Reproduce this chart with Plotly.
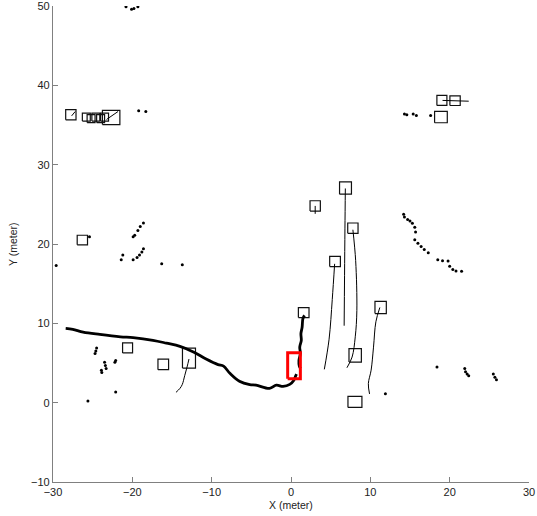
import plotly.graph_objects as go

# ---- data (meters) ----
# thick vehicle trajectory (None = gap)
traj_x = [-28.4, -27.5, -26.2, -24.1, -21.5, -19.9, -17.4, -15.7, -14.0, -12.3, -10.7, -9.2, -8.5, -7.7,
          -6.5, -5.2, -4.4, -2.7, -1.84, -1.0, -0.16, 0.34, 0.6, 0.7, None,
          1.2, 1.05, 1.0, 1.18, 1.1, 1.3, 1.25, 1.4, 1.5, 1.7]
traj_y = [9.37, 9.25, 8.9, 8.6, 8.3, 8.2, 7.86, 7.5, 7.1, 6.4, 5.5, 4.8, 4.6, 3.7,
          2.7, 2.27, 2.2, 1.8, 2.2, 2.05, 2.3, 2.8, 3.4, 3.6, None,
          4.3, 4.6, 5.3, 6.2, 7.0, 7.85, 8.7, 9.5, 10.6, 11.0]

# thin object tracks
tracks = [
    ([-12.86, -13.1, -13.4, -13.7, -14.0, -14.5], [5.5, 4.5, 3.4, 2.3, 1.8, 1.3]),
    ([6.85, 6.8, 6.75, 6.7], [27.0, 22.0, 16.0, 9.7]),
    ([5.5, 5.2, 4.8, 4.2], [17.5, 13.0, 8.0, 4.2]),
    ([7.8, 8.15, 8.3, 8.1, 7.7, 7.05], [21.8, 17.9, 11.6, 8.3, 5.75, 4.4]),
    ([11.2, 10.7, 10.4, 10.1, 9.75, 9.9], [12.0, 10.2, 7.0, 4.1, 2.4, 1.1]),
    ([19.1, 22.4], [38.1, 38.0]),
    ([-27.65, -27.2], [36.15, 36.7]),
    ([-23.25, -21.8], [35.7, 36.7]),
    ([3.05, 3.05], [24.8, 23.8]),
]

# object bounding boxes: centre x, centre y, width, height
box_cx = [-27.75, -25.8, -25.2, -24.6, -24.0, -23.5, -22.67, -26.3, -20.6, -16.1, -12.86,
          1.6, 3.05, 6.87, 7.8, 5.55, 11.3, 8.09, 8.06, 19.02, 20.68, 18.9]
box_cy = [36.3, 36.0, 35.8, 36.0, 35.8, 36.0, 35.95, 20.5, 6.9, 4.83, 5.62,
          11.35, 24.8, 27.05, 22.0, 17.8, 12.0, 5.96, 0.1, 38.1, 38.06, 36.0]
box_w = [1.3, 1.0, 1.0, 1.0, 1.0, 1.0, 2.2, 1.3, 1.26, 1.34, 1.64,
         1.34, 1.3, 1.5, 1.3, 1.35, 1.43, 1.56, 1.76, 1.26, 1.3, 1.6]
box_h = [1.3, 1.0, 1.0, 1.0, 1.0, 1.0, 1.8, 1.2, 1.26, 1.34, 2.52,
         1.26, 1.3, 1.55, 1.3, 1.3, 1.55, 1.68, 1.39, 1.26, 1.2, 1.43]

# highlighted box (red)
red_cx, red_cy, red_w, red_h = 0.38, 4.65, 1.6, 3.3

# laser scan points
pts_x = [-20.8, -20.1, -19.8, -19.3, -19.2, -18.3,
         -18.6, -19.0, -19.3, -19.7, -19.9,
         -18.6, -18.8, -19.1, -19.4, -19.9, -21.2, -21.4,
         -25.4, -29.6, -16.3, -13.7,
         -24.5, -24.6, -24.7, -23.5, -23.4, -23.3, -23.9, -23.85, -22.1, -22.2, -22.1, -25.6,
         18.4, 21.9, 22.0, 22.2, 22.4, 25.5, 25.7, 25.9, 11.9,
         14.3, 14.6, 15.4, 15.8, 17.6,
         14.2, 14.3, 14.7, 15.0, 15.3, 15.6, 15.7, 15.6, 16.0, 16.4, 16.8, 17.3,
         18.5, 19.1, 19.8, 20.0, 20.4, 20.8, 21.5]
pts_y = [49.9, 49.6, 49.7, 49.9, 36.8, 36.7,
         22.65, 22.2, 21.7, 21.1, 20.9,
         19.4, 19.0, 18.6, 18.3, 18.0, 18.6, 18.0,
         20.9, 17.3, 17.5, 17.4,
         6.9, 6.5, 6.2, 5.1, 4.7, 4.3, 4.1, 3.8, 5.3, 5.1, 1.35, 0.2,
         4.5, 4.3, 3.9, 3.6, 3.4, 3.6, 3.2, 2.9, 1.13,
         36.4, 36.3, 36.4, 36.2, 36.2,
         23.75, 23.4, 23.1, 22.9, 22.6, 22.1, 21.5, 20.55, 20.1, 19.7, 19.3, 18.9,
         18.0, 17.9, 17.85, 17.2, 16.8, 16.6, 16.55]

x_ticks = [-30, -20, -10, 0, 10, 20, 30]
y_ticks = [-10, 0, 10, 20, 30, 40, 50]


def rect_path(cx, cy, w, h):
    xs, ys = [], []
    for a, b, ww, hh in zip(cx, cy, w, h):
        x0, x1, y0, y1 = a - ww / 2, a + ww / 2, b - hh / 2, b + hh / 2
        xs += [x0, x1, x1, x0, x0, None]
        ys += [y0, y0, y1, y1, y0, None]
    return xs, ys


FONT = "Liberation Sans, Arial, Helvetica"

fig = go.Figure()

bx, by = rect_path(box_cx, box_cy, box_w, box_h)
fig.add_trace(go.Scatter(x=bx, y=by, mode="lines", line=dict(color="#111111", width=1.2),
                         hoverinfo="skip"))

for tx, ty in tracks:
    fig.add_trace(go.Scatter(x=tx, y=ty, mode="lines", line=dict(color="black", width=1),
                             line_shape="spline", hoverinfo="skip"))

fig.add_trace(go.Scatter(x=pts_x, y=pts_y, mode="markers",
                         marker=dict(color="black", size=3, line=dict(width=0))))

fig.add_trace(go.Scatter(x=traj_x, y=traj_y, mode="lines", line=dict(color="black", width=2.8),
                         line_shape="spline", hoverinfo="skip"))

rx, ry = rect_path([red_cx], [red_cy], [red_w], [red_h])
fig.add_trace(go.Scatter(x=rx, y=ry, mode="lines", line=dict(color="#ff0000", width=3),
                         hoverinfo="skip"))

axis_common = dict(showgrid=False, zeroline=False, showline=True, linecolor="#808080", linewidth=1.3,
                   ticks="inside", ticklen=5, tickcolor="#808080", tickwidth=1,
                   tickfont=dict(family=FONT, size=11, color="#222222"),
                   mirror=False, automargin=False, ticklabeloverflow="allow")

fig.update_layout(
    width=537, height=516,
    margin=dict(l=53, r=8, t=6, b=34, autoexpand=False),
    paper_bgcolor="white", plot_bgcolor="white",
    showlegend=False,
    xaxis=dict(range=[-30, 30], tickvals=x_ticks,
               ticktext=[str(v).replace("-", "\u2212") for v in x_ticks], **axis_common),
    yaxis=dict(range=[-10, 50], tickvals=y_ticks,
               ticktext=[str(v).replace("-", "\u2212") for v in y_ticks], **axis_common),
    annotations=[
        dict(text="X (meter)", xref="paper", yref="paper", x=0.5, y=-0.049,
             xanchor="center", yanchor="middle", showarrow=False,
             font=dict(family=FONT, size=10.5, color="#222222")),
        dict(text="Y (meter)", xref="paper", yref="paper", x=-0.084, y=0.5,
             xanchor="center", yanchor="middle", showarrow=False, textangle=-90,
             font=dict(family=FONT, size=10.5, color="#222222")),
    ],
)

fig.write_html("out.html", config={"displayModeBar": False},
               post_script="document.body.style.margin='0';document.body.style.overflow='hidden';")
